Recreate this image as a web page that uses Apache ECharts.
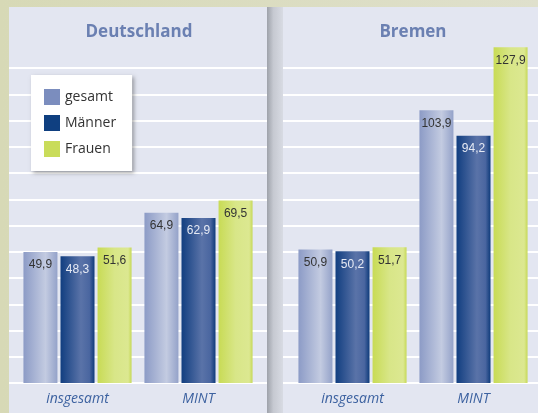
<!DOCTYPE html>
<html>
<head>
<meta charset="utf-8">
<script src="https://cdn.jsdelivr.net/npm/echarts@6/dist/echarts.min.js"></script>
<style>
  html, body { margin: 0; padding: 0; }
  #chart { width: 538px; height: 413px; }
</style>
</head>
<body>
<div id="chart"></div>
<script>
// Daten
const categories = ['insgesamt', 'MINT'];
const seriesNames = ['gesamt', 'Männer', 'Frauen'];
const deutschland = {
  gesamt: [49.9, 64.9],
  maenner: [48.3, 62.9],
  frauen: [51.6, 69.5]
};
const bremen = {
  gesamt: [50.9, 103.9],
  maenner: [50.2, 94.2],
  frauen: [51.7, 127.9]
};

const grad = (stops) => new echarts.graphic.LinearGradient(0, 0, 1, 0,
  stops.map(s => ({ offset: s[0], color: s[1] })));

const barColors = [
  grad([[0, '#8c9bc6'], [0.65, '#c3cbe1'], [1, '#94a2c9']]),
  grad([[0, '#113e80'], [0.6, '#5a73a8'], [0.85, '#4a66a0'], [1, '#0e3b7a']]),
  grad([[0, '#c8db55'], [0.5, '#d8e688'], [0.9, '#dce891'], [1, '#c6d957']])
];
const legendColors = ['#7b8dbe', '#0f3f80', '#c9dc5a'];
const labelColors = ['#333333', '#e6eaf4', '#333333'];

const fmt = (p) => String(p.value).replace('.', ',');

function makeSeries(data, gridIdx) {
  const lists = [data.gesamt, data.maenner, data.frauen];
  return lists.map((vals, i) => ({
    name: seriesNames[i],
    type: 'bar',
    xAxisIndex: gridIdx,
    yAxisIndex: gridIdx,
    barWidth: 34,
    barGap: '9%',
    clip: false,
    data: vals,
    itemStyle: { color: barColors[i] },
    label: {
      show: true,
      position: 'insideTop',
      distance: 7,
      formatter: fmt,
      color: labelColors[i],
      fontSize: 12,
      fontFamily: 'Liberation Sans'
    }
  }));
}

const chart = echarts.init(document.getElementById('chart'), null, { renderer: 'canvas' });

const xAxisBase = {
  type: 'category',
  data: categories,
  axisLine: { show: false },
  axisTick: { show: false },
  axisLabel: {
    margin: 9,
    fontSize: 14,
    fontStyle: 'italic',
    fontFamily: 'Open Sans',
    color: '#3d62a0'
  }
};
const yAxisBase = {
  type: 'value',
  min: 0,
  max: 120,
  interval: 10,
  axisLabel: { show: false },
  axisLine: { show: false },
  axisTick: { show: false },
  splitLine: { show: false }
};
// hidden axes only for the full-width white grid lines of each panel
const bgX = { type: 'value', show: false };
const bgY = Object.assign({}, yAxisBase, {
  splitLine: { show: true, lineStyle: { color: '#ffffff', width: 2 } }
});

const option = {
  backgroundColor: new echarts.graphic.LinearGradient(0, 0, 1, 0, [
    { offset: 0, color: '#d7d9b6' },
    { offset: 1, color: '#dfe0cc' }
  ]),
  graphic: [
    { type: 'rect', z: -10, shape: { x: 9, y: 7, width: 258, height: 406 },
      style: { fill: '#e3e6f1' } },
    { type: 'rect', z: -10, shape: { x: 283, y: 7, width: 255, height: 406 },
      style: { fill: '#e3e6f1' } },
    { type: 'rect', z: -10, shape: { x: 267, y: 7, width: 16, height: 406 },
      style: { fill: new echarts.graphic.LinearGradient(0, 0, 1, 0, [
        { offset: 0, color: '#9ea2aa' },
        { offset: 0.4, color: '#c6c9d1' },
        { offset: 1, color: '#d8dbe3' }
      ]) } }
  ],
  title: [
    { text: 'Deutschland', left: 134, top: 19, textAlign: 'center',
      textStyle: { fontSize: 17, fontWeight: 'bold', color: '#6b80b2', fontFamily: 'Open Sans' } },
    { text: 'Bremen', left: 408, top: 19, textAlign: 'center',
      textStyle: { fontSize: 17, fontWeight: 'bold', color: '#6b80b2', fontFamily: 'Open Sans' } }
  ],
  legend: {
    orient: 'vertical',
    left: 31,
    top: 75,
    data: seriesNames.map((n, i) => ({ name: n, itemStyle: { color: legendColors[i] } })),
    icon: 'rect',
    itemWidth: 16,
    itemHeight: 16,
    itemGap: 10,
    padding: [14, 16, 14, 13],
    backgroundColor: '#ffffff',
    shadowColor: 'rgba(0,0,0,0.35)',
    shadowBlur: 4,
    shadowOffsetX: 2,
    shadowOffsetY: 2,
    selectedMode: false,
    textStyle: { fontSize: 14, color: '#333333', fontFamily: 'Open Sans' }
  },
  grid: [
    { left: 17, width: 242, top: 68, bottom: 30 },
    { left: 292, width: 242, top: 68, bottom: 30 },
    { left: 9, width: 258, top: 68, bottom: 30 },
    { left: 283, width: 255, top: 68, bottom: 30 }
  ],
  xAxis: [
    Object.assign({ gridIndex: 0 }, xAxisBase),
    Object.assign({ gridIndex: 1 }, xAxisBase),
    Object.assign({ gridIndex: 2 }, bgX),
    Object.assign({ gridIndex: 3 }, bgX)
  ],
  yAxis: [
    Object.assign({ gridIndex: 0 }, yAxisBase),
    Object.assign({ gridIndex: 1 }, yAxisBase),
    Object.assign({ gridIndex: 2 }, bgY),
    Object.assign({ gridIndex: 3 }, bgY)
  ],
  series: makeSeries(deutschland, 0).concat(makeSeries(bremen, 1))
};

chart.setOption(option);
</script>
</body>
</html>
